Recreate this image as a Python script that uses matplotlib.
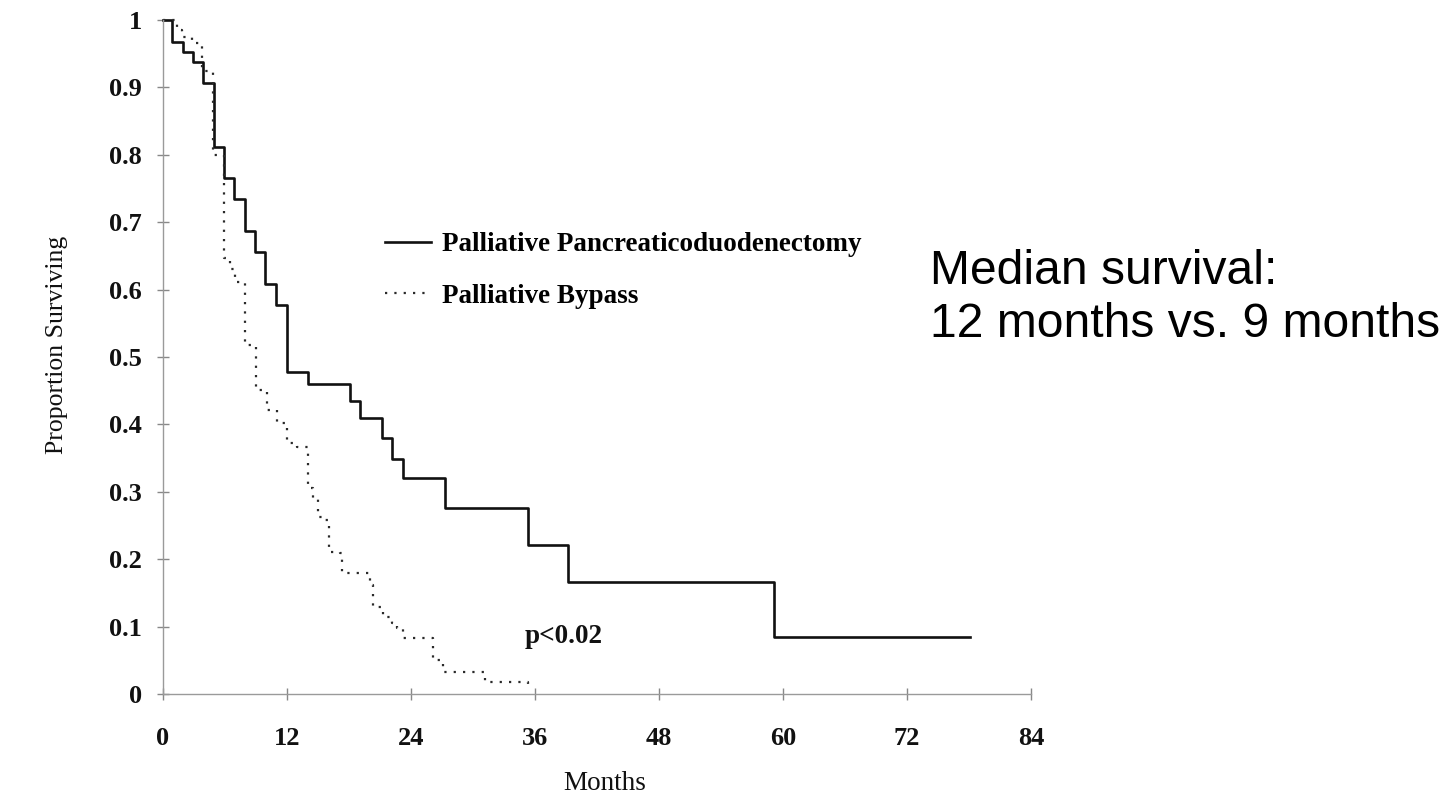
import matplotlib
matplotlib.use("Agg")
import matplotlib.pyplot as plt

# Kaplan-Meier steps (month of step, survival after step)
months_ppd = [0, 0.9, 1.9, 2.9, 3.9, 4.9, 5.9, 6.9, 7.9, 8.9, 9.9, 10.9, 12.0,
              14.0, 18.1, 19.1, 21.2, 22.2, 23.2, 27.3, 35.3, 39.2, 59.1]
surv_ppd = [1.0, 0.967, 0.953, 0.938, 0.907, 0.812, 0.766, 0.734, 0.687, 0.656,
            0.608, 0.577, 0.478, 0.460, 0.435, 0.409, 0.380, 0.349, 0.320,
            0.276, 0.221, 0.166, 0.085]
end_ppd = 78.1

months_byp = [0, 1.4, 1.8, 2.8, 3.8, 4.8, 5.9, 6.5, 7.0, 7.9, 8.6, 9.0, 10.1,
              11.0, 12.0, 13.0, 14.0, 14.5, 15.0, 15.7, 16.1, 17.1, 17.3, 20.0,
              20.3, 21.3, 22.2, 22.6, 23.2, 26.1, 26.8, 27.1, 31.2, 35.3]
surv_byp = [1.0, 0.985, 0.975, 0.966, 0.925, 0.800, 0.647, 0.630, 0.611, 0.518,
            0.515, 0.451, 0.421, 0.402, 0.372, 0.366, 0.305, 0.291, 0.263,
            0.258, 0.211, 0.209, 0.180, 0.162, 0.129, 0.114, 0.105, 0.098,
            0.083, 0.050, 0.047, 0.033, 0.018, 0.010]
end_byp = 35.7

x_ticks = [0, 12, 24, 36, 48, 60, 72, 84]
y_ticks = [0, 0.1, 0.2, 0.3, 0.4, 0.5, 0.6, 0.7, 0.8, 0.9, 1.0]
y_labels = ["0", "0.1", "0.2", "0.3", "0.4", "0.5", "0.6", "0.7", "0.8", "0.9", "1"]

label_ppd = "Palliative Pancreaticoduodenectomy"
label_byp = "Palliative Bypass"
p_text = "p<0.02"
note = "Median survival:\n12 months vs. 9 months"

serif = "Liberation Serif"

fig = plt.figure(figsize=(14.53, 7.97), dpi=100)
ax = fig.add_axes([163 / 1453, 1 - 694 / 797, 868 / 1453, 674 / 797])

l1, = ax.step(months_ppd + [end_ppd], surv_ppd + [surv_ppd[-1]], where="post",
              color="#111111", lw=1.9, clip_on=False, label=label_ppd)
l2, = ax.step(months_byp + [end_byp], surv_byp + [surv_byp[-1]], where="post",
              color="#2a2a2a", lw=1.6, linestyle=(0, (1, 3.2)), clip_on=False,
              label=label_byp)

ax.set_xlim(0, 84)
ax.set_ylim(0, 1)
for side in ["top", "right"]:
    ax.spines[side].set_visible(False)
for side in ["left", "bottom"]:
    ax.spines[side].set_color("#9a9a9a")
    ax.spines[side].set_linewidth(1.0)

ax.set_xticks(x_ticks)
ax.set_xticklabels([str(t) for t in x_ticks])
ax.set_yticks(y_ticks)
ax.set_yticklabels(y_labels)
ax.tick_params(axis="both", direction="inout", length=8, width=1, color="#888888",
               labelsize=19, labelcolor="#111111")
ax.tick_params(axis="x", pad=20)
ax.tick_params(axis="y", pad=11)
for lab in ax.get_xticklabels() + ax.get_yticklabels():
    lab.set_family(serif)
    lab.set_weight("bold")

fig.text(57 / 1453, 1 - 345 / 797, "Proportion Surviving", rotation=90,
         ha="center", va="center", family=serif, fontsize=18.5, color="#111111")
fig.text(605 / 1453, 1 - 784 / 797, "Months", ha="center", va="center",
         family=serif, fontsize=19.5, color="#111111")

ax.text(35.0, 0.086, p_text, ha="left", va="center", family=serif,
        weight="bold", fontsize=19.5, color="#111111")

ax.legend(handles=[l1, l2], loc="upper left",
          bbox_to_anchor=(385 / 1453, 1 - 232 / 797), bbox_transform=fig.transFigure,
          frameon=False, borderpad=0, borderaxespad=0, handlelength=1.7,
          handletextpad=0.4, labelspacing=0.98,
          prop={"family": serif, "weight": "bold", "size": 19.5})

fig.text(930 / 1453, 1 - 298 / 797, note, ha="left", va="center",
         family="Liberation Sans", fontsize=34.6, linespacing=1.24, color="black")

fig.savefig("out.png", dpi=100)
